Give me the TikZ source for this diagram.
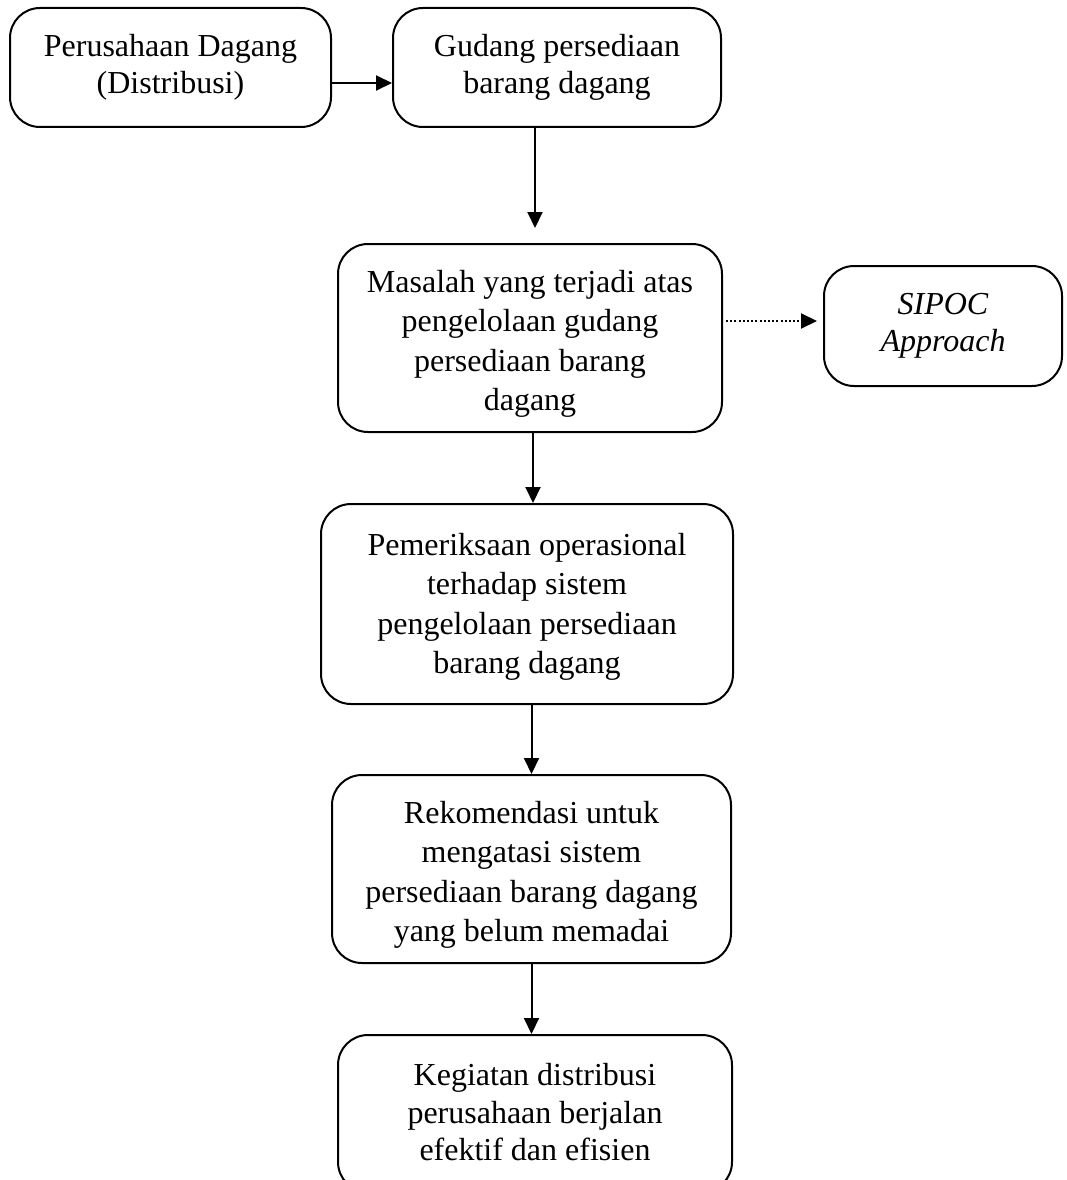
\documentclass[tikz,border=0pt]{standalone}
\usepackage{fontspec}
\setmainfont{Liberation Serif}
\usetikzlibrary{arrows.meta}
\begin{document}
\begin{tikzpicture}[x=1pt,y=-1pt,
  box/.style={draw, line width=2pt, rounded corners=30pt, inner sep=0pt},
  txt/.style={inner sep=0pt, align=center, font=\fontsize{32}{37.5}\selectfont},
  txtl/.style={inner sep=0pt, align=center, font=\fontsize{32}{39.5}\selectfont},
  conn/.style={line width=2pt, -{Triangle[width=15pt,length=16pt]}},
  dotconn/.style={line width=2pt, dash pattern=on 2pt off 2.2pt, -{Triangle[width=15pt,length=16pt]}}
]
\useasboundingbox (0,0) rectangle (1066,1180);
\node[box, minimum width=321pt, minimum height=119pt] (b1) at (170.5,67.5) {};
\node[txt] (t1) at ([yshift=0pt]b1.center) {Perusahaan Dagang\\(Distribusi)};
\node[box, minimum width=328pt, minimum height=119pt] (b2) at (557,67.5) {};
\node[txt] (t2) at ([yshift=0pt]b2.center) {Gudang persediaan\\barang dagang};
\node[box, minimum width=384pt, minimum height=188pt] (b3) at (530,338) {};
\node[txtl] (t3) at ([yshift=-6pt]b3.center) {Masalah yang terjadi atas\\pengelolaan gudang\\persediaan barang\\dagang};
\node[box, minimum width=238pt, minimum height=120pt] (sipoc) at (943,326) {};
\node[txt, font=\fontsize{32}{37.5}\selectfont\itshape] (ts) at (sipoc.center) {SIPOC\\Approach};
\node[box, minimum width=412pt, minimum height=200pt] (b4) at (527,604) {};
\node[txtl] (t4) at ([yshift=-3pt]b4.center) {Pemeriksaan operasional\\terhadap sistem\\pengelolaan persediaan\\barang dagang};
\node[box, minimum width=399pt, minimum height=188pt] (b5) at (531.5,869) {};
\node[txtl] (t5) at ([yshift=-6pt]b5.center) {Rekomendasi untuk\\mengatasi sistem\\persediaan barang dagang\\yang belum memadai};
\node[box, minimum width=394pt, minimum height=157pt] (b6) at (535,1113.5) {};
\node[txt] (t6) at ([yshift=1pt]b6.center) {Kegiatan distribusi\\perusahaan berjalan\\efektif dan efisien};
\coordinate (a3) at (535,228);
\draw[conn] ([yshift=-15.5pt]b1.east) -- ([yshift=-15.5pt]b2.west);
\draw[conn] (b2.south -| a3) -- (a3);
\draw[conn] ([xshift=3pt]b3.south) -- ([xshift=3pt]b3.south |- b4.north);
\draw[conn] (b5.north |- b4.south) -- (b5.north);
\draw[conn] (b5.south) -- (b5.south |- b6.north);
\draw[dotconn, shorten <=3pt, shorten >=6pt] ([yshift=17pt]b3.east) -- ([yshift=17pt]b3.east -| sipoc.west);
\end{tikzpicture}
\end{document}
